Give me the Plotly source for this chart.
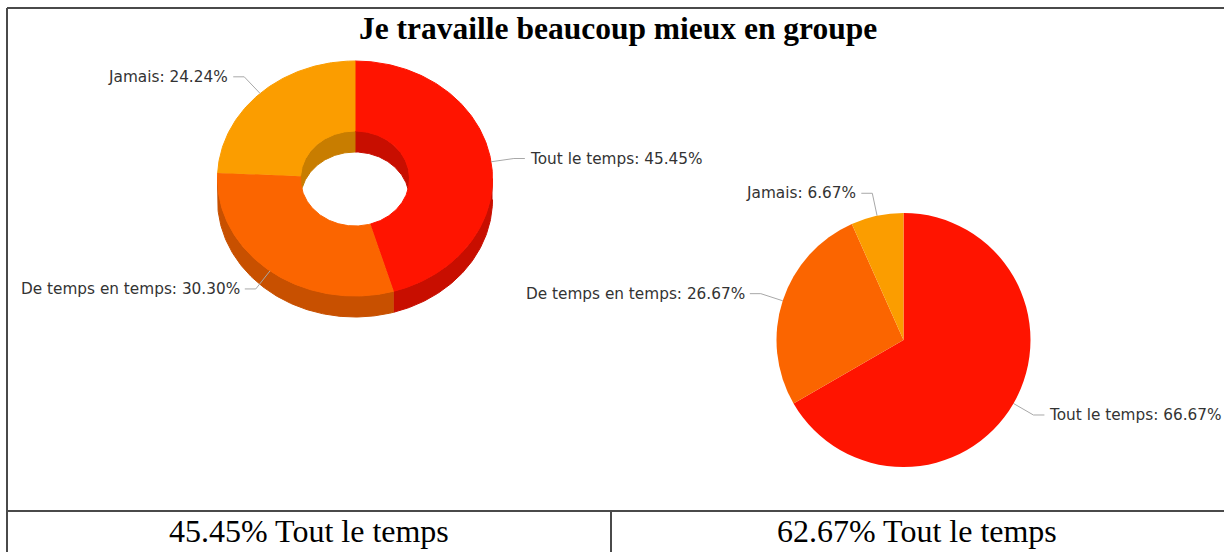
import numpy as np
import plotly.graph_objects as go

# ---------------- data ----------------
title_text = "Je travaille beaucoup mieux en groupe"
categories = ["Tout le temps", "De temps en temps", "Jamais"]
values_left = [45.45, 30.30, 24.24]
values_right = [66.67, 26.67, 6.67]
footer_labels = ["45.45% Tout le temps", "62.67% Tout le temps"]

# ---------------- styles / layout constants ----------------
W, H = 1224, 552
colors = ["#FF1400", "#FB6500", "#FB9D00"]
dark_colors = ["#C80E00", "#C85000", "#C87D00"]
label_font = dict(family="DejaVu Sans", size=15.3, color="#333333")
connector_color = "#A8A8A8"

# left 3D donut geometry (pixels)
L_CX, L_CY, L_RX, L_RY = 355, 178.5, 137.5, 117.5
L_IRX, L_IRY, L_DEPTH = 54.5, 47.5, 21
# right pie geometry (pixels)
R_CX, R_CY, R_R = 903.5, 340, 127

RADIAL_LEN = 23
HORIZ_LEN = 11
TEXT_GAP = 3


def fractions(values):
    v = np.asarray(values, dtype=float)
    cum = np.concatenate([[0.0], np.cumsum(v)]) / v.sum()
    return list(zip(cum[:-1], cum[1:]))


def arc(cx, cy, rx, ry, a0, a1, dy=0.0):
    n = max(3, int(abs(a1 - a0) * 400) + 3)
    t = np.linspace(a0, a1, n) * 2 * np.pi
    return cx + rx * np.sin(t), cy + dy - ry * np.cos(t)


def clip(a0, a1, lo, hi):
    a, b = max(a0, lo), min(a1, hi)
    return (a, b) if b > a else None


fig = go.Figure()

bounds_left = fractions(values_left)

# outer front walls (lower half: angle 0.25..0.75)
for (a0, a1), dc in zip(bounds_left, dark_colors):
    seg = clip(a0, a1, 0.25, 0.75)
    if seg is None:
        continue
    xs1, ys1 = arc(L_CX, L_CY, L_RX, L_RY, seg[0], seg[1])
    xs2, ys2 = arc(L_CX, L_CY, L_RX, L_RY, seg[1], seg[0], dy=L_DEPTH)
    fig.add_trace(go.Scatter(x=np.r_[xs1, xs2], y=np.r_[ys1, ys2], mode="lines",
                             fill="toself", fillcolor=dc, line=dict(color=dc, width=1),
                             hoverinfo="skip"))

# inner back walls (upper half: 0..0.25 and 0.75..1)
for (a0, a1), dc in zip(bounds_left, dark_colors):
    for lo, hi in [(0.0, 0.25), (0.75, 1.0)]:
        seg = clip(a0, a1, lo, hi)
        if seg is None:
            continue
        xs1, ys1 = arc(L_CX, L_CY, L_IRX, L_IRY, seg[0], seg[1])
        xs2, ys2 = arc(L_CX, L_CY, L_IRX, L_IRY, seg[1], seg[0], dy=L_DEPTH)
        fig.add_trace(go.Scatter(x=np.r_[xs1, xs2], y=np.r_[ys1, ys2], mode="lines",
                                 fill="toself", fillcolor=dc, line=dict(color=dc, width=1),
                                 hoverinfo="skip"))

# top faces
for (a0, a1), c, cat, v in zip(bounds_left, colors, categories, values_left):
    xo, yo = arc(L_CX, L_CY, L_RX, L_RY, a0, a1)
    xi, yi = arc(L_CX, L_CY, L_IRX, L_IRY, a1, a0)
    fig.add_trace(go.Scatter(x=np.r_[xo, xi], y=np.r_[yo, yi], mode="lines",
                             fill="toself", fillcolor=c, line=dict(color=c, width=1),
                             name=cat, hoverinfo="text", text=f"{cat}: {v:.2f}%"))

# right pie (real pie trace)
fig.add_trace(go.Pie(
    labels=categories, values=values_right, sort=False, direction="clockwise",
    rotation=0, textinfo="none", hole=0,
    marker=dict(colors=colors, line=dict(width=0)),
    domain=dict(x=[(R_CX - R_R) / W, (R_CX + R_R) / W],
                y=[1 - (R_CY + R_R) / H, 1 - (R_CY - R_R) / H]),
))

annotations = []


def add_labels(bounds, values, cx, cy, rx, ry):
    for (a0, a1), cat, v in zip(bounds, categories, values):
        mid = (a0 + a1) / 2 * 2 * np.pi
        ux, uy = np.sin(mid), -np.cos(mid)
        px, py = cx + rx * ux, cy + ry * uy
        bx, by = px + RADIAL_LEN * ux, py + RADIAL_LEN * uy
        side = 1 if ux >= 0 else -1
        qx = bx + side * HORIZ_LEN
        fig.add_trace(go.Scatter(x=[px, bx, qx], y=[py, by, by], mode="lines",
                                 line=dict(color=connector_color, width=1),
                                 hoverinfo="skip"))
        annotations.append(dict(
            x=qx + side * TEXT_GAP, y=by, xref="x", yref="y",
            text=f"{cat}: {v:.2f}%", showarrow=False,
            xanchor="left" if side > 0 else "right", yanchor="middle",
            font=label_font))


add_labels(bounds_left, values_left, L_CX, L_CY, L_RX, L_RY)
add_labels(fractions(values_right), values_right, R_CX, R_CY, R_R, R_R)

# title
annotations.append(dict(x=618, y=28, xref="x", yref="y", text=f"<b>{title_text}</b>",
                        showarrow=False, xanchor="center", yanchor="middle",
                        font=dict(family="Liberation Serif", size=31.5, color="#000000")))
# footer cells
for xc, txt in zip([309, 917], footer_labels):
    annotations.append(dict(x=xc, y=531, xref="x", yref="y", text=txt,
                            showarrow=False, xanchor="center", yanchor="middle",
                            font=dict(family="Liberation Serif", size=32, color="#000000")))

line_style = dict(color="#4A4A4A", width=2)
shapes = [
    dict(type="line", xref="x", yref="y", x0=7, y0=8, x1=W, y1=8, line=line_style),
    dict(type="line", xref="x", yref="y", x0=7, y0=8, x1=7, y1=H, line=line_style),
    dict(type="line", xref="x", yref="y", x0=7, y0=511, x1=W, y1=511, line=line_style),
    dict(type="line", xref="x", yref="y", x0=611, y0=511, x1=611, y1=H, line=line_style),
]

fig.update_layout(
    width=W, height=H, margin=dict(l=0, r=0, t=0, b=0),
    paper_bgcolor="white", plot_bgcolor="white", showlegend=False,
    xaxis=dict(range=[0, W], visible=False, fixedrange=True),
    yaxis=dict(range=[H, 0], visible=False, fixedrange=True),
    annotations=annotations, shapes=shapes,
)

fig.write_html("out.html", config={"displayModeBar": False},
               post_script="document.body.style.margin='0';document.body.style.overflow='hidden';")
